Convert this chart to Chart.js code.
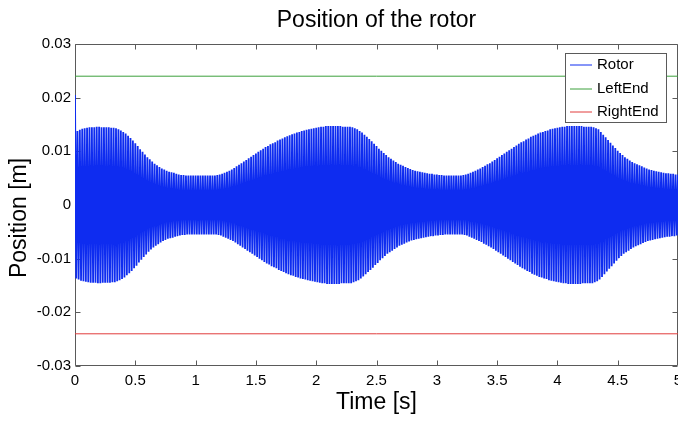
<!DOCTYPE html>
<html><head><meta charset="utf-8">
<script src="https://cdn.jsdelivr.net/npm/chart.js@4.4.1/dist/chart.umd.min.js"></script>
<style>html,body{margin:0;padding:0;background:#fff;}#wrap{width:678px;height:421px;}</style>
</head><body><div id="wrap"><canvas id="c" width="678" height="421"></canvas></div>
<script>
const chartTitle = 'Position of the rotor';
const xTitle = 'Time [s]';
const yTitle = 'Position [m]';
const seriesNames = ['Rotor', 'LeftEnd', 'RightEnd'];
const seriesColors = ['rgb(14,44,240)', 'rgb(60,160,60)', 'rgb(225,60,60)'];
const timeStep = 0.01; // sampling interval of the rotor samples below (s)
const rotorPosition = [
  0.0205,-0.0137,0.0138,-0.0139,0.0140,-0.0141,0.0142,-0.0142,0.0143,-0.0143,
  0.0144,-0.0144,0.0145,-0.0145,0.0145,-0.0145,0.0145,-0.0145,0.0146,-0.0146,
  0.0146,-0.0146,0.0145,-0.0145,0.0145,-0.0145,0.0145,-0.0145,0.0145,-0.0145,
  0.0144,-0.0144,0.0144,-0.0144,0.0143,-0.0142,0.0141,-0.0140,0.0139,-0.0138,
  0.0136,-0.0135,0.0133,-0.0131,0.0129,-0.0127,0.0125,-0.0123,0.0120,-0.0118,
  0.0115,-0.0113,0.0110,-0.0107,0.0104,-0.0102,0.0099,-0.0097,0.0094,-0.0092,
  0.0089,-0.0087,0.0085,-0.0083,0.0081,-0.0079,0.0077,-0.0076,0.0074,-0.0073,
  0.0071,-0.0070,0.0068,-0.0067,0.0066,-0.0065,0.0064,-0.0063,0.0062,-0.0062,
  0.0061,-0.0061,0.0060,-0.0059,0.0058,-0.0058,0.0057,-0.0057,0.0056,-0.0056,
  0.0056,-0.0056,0.0055,-0.0055,0.0055,-0.0055,0.0055,-0.0055,0.0055,-0.0055,
  0.0055,-0.0055,0.0055,-0.0055,0.0055,-0.0055,0.0055,-0.0055,0.0055,-0.0055,
  0.0055,-0.0055,0.0055,-0.0055,0.0055,-0.0055,0.0055,-0.0055,0.0056,-0.0056,
  0.0057,-0.0057,0.0058,-0.0059,0.0060,-0.0061,0.0062,-0.0063,0.0064,-0.0065,
  0.0066,-0.0067,0.0069,-0.0070,0.0072,-0.0073,0.0075,-0.0076,0.0078,-0.0079,
  0.0081,-0.0082,0.0084,-0.0085,0.0087,-0.0088,0.0090,-0.0091,0.0093,-0.0094,
  0.0096,-0.0097,0.0099,-0.0100,0.0102,-0.0103,0.0105,-0.0106,0.0108,-0.0109,
  0.0110,-0.0111,0.0113,-0.0114,0.0115,-0.0116,0.0117,-0.0118,0.0120,-0.0121,
  0.0122,-0.0123,0.0124,-0.0125,0.0126,-0.0127,0.0128,-0.0129,0.0130,-0.0131,
  0.0132,-0.0132,0.0133,-0.0134,0.0135,-0.0135,0.0136,-0.0137,0.0138,-0.0138,
  0.0139,-0.0139,0.0140,-0.0140,0.0141,-0.0141,0.0142,-0.0142,0.0143,-0.0143,
  0.0144,-0.0144,0.0145,-0.0145,0.0146,-0.0146,0.0146,-0.0146,0.0147,-0.0147,
  0.0147,-0.0147,0.0147,-0.0147,0.0147,-0.0147,0.0147,-0.0147,0.0147,-0.0147,
  0.0147,-0.0146,0.0146,-0.0146,0.0146,-0.0146,0.0146,-0.0146,0.0146,-0.0146,
  0.0145,-0.0144,0.0143,-0.0142,0.0141,-0.0140,0.0138,-0.0137,0.0135,-0.0133,
  0.0131,-0.0129,0.0127,-0.0125,0.0123,-0.0121,0.0119,-0.0117,0.0114,-0.0112,
  0.0110,-0.0108,0.0105,-0.0103,0.0101,-0.0099,0.0097,-0.0095,0.0093,-0.0091,
  0.0089,-0.0088,0.0086,-0.0085,0.0083,-0.0082,0.0080,-0.0079,0.0077,-0.0076,
  0.0075,-0.0074,0.0073,-0.0072,0.0071,-0.0070,0.0069,-0.0068,0.0067,-0.0066,
  0.0065,-0.0065,0.0064,-0.0064,0.0063,-0.0063,0.0062,-0.0062,0.0061,-0.0061,
  0.0060,-0.0060,0.0059,-0.0059,0.0058,-0.0058,0.0058,-0.0058,0.0057,-0.0057,
  0.0057,-0.0057,0.0056,-0.0056,0.0056,-0.0056,0.0055,-0.0055,0.0055,-0.0055,
  0.0055,-0.0055,0.0055,-0.0055,0.0055,-0.0055,0.0055,-0.0055,0.0055,-0.0055,
  0.0055,-0.0055,0.0056,-0.0056,0.0057,-0.0057,0.0058,-0.0059,0.0060,-0.0061,
  0.0062,-0.0063,0.0064,-0.0065,0.0066,-0.0067,0.0068,-0.0069,0.0071,-0.0072,
  0.0073,-0.0074,0.0076,-0.0077,0.0078,-0.0079,0.0081,-0.0082,0.0084,-0.0085,
  0.0087,-0.0088,0.0090,-0.0091,0.0093,-0.0094,0.0096,-0.0097,0.0099,-0.0100,
  0.0102,-0.0103,0.0105,-0.0106,0.0108,-0.0109,0.0111,-0.0112,0.0114,-0.0115,
  0.0117,-0.0118,0.0119,-0.0120,0.0122,-0.0123,0.0124,-0.0125,0.0127,-0.0128,
  0.0129,-0.0130,0.0131,-0.0132,0.0133,-0.0134,0.0135,-0.0135,0.0136,-0.0137,
  0.0138,-0.0138,0.0139,-0.0140,0.0141,-0.0141,0.0142,-0.0142,0.0143,-0.0143,
  0.0144,-0.0144,0.0145,-0.0145,0.0146,-0.0146,0.0146,-0.0146,0.0147,-0.0147,
  0.0147,-0.0147,0.0147,-0.0147,0.0147,-0.0147,0.0147,-0.0147,0.0147,-0.0147,
  0.0147,-0.0146,0.0146,-0.0146,0.0146,-0.0146,0.0146,-0.0146,0.0146,-0.0146,
  0.0145,-0.0144,0.0143,-0.0142,0.0141,-0.0139,0.0136,-0.0134,0.0131,-0.0129,
  0.0126,-0.0124,0.0121,-0.0119,0.0116,-0.0114,0.0111,-0.0109,0.0106,-0.0104,
  0.0101,-0.0099,0.0097,-0.0095,0.0093,-0.0091,0.0089,-0.0088,0.0086,-0.0085,
  0.0083,-0.0082,0.0080,-0.0079,0.0078,-0.0077,0.0076,-0.0075,0.0074,-0.0073,
  0.0072,-0.0071,0.0070,-0.0069,0.0068,-0.0067,0.0066,-0.0066,0.0065,-0.0065,
  0.0064,-0.0064,0.0063,-0.0063,0.0062,-0.0062,0.0061,-0.0061,0.0060,-0.0060,
  0.0059,-0.0059,0.0059,-0.0059,0.0058,-0.0058,0.0058,-0.0058,0.0057,-0.0057,
  0.0057
];
const endTimes = [0, 5];
const leftEndPosition = [0.024, 0.024];
const rightEndPosition = [-0.024, -0.024];
const xTickValues = [0, 0.5, 1, 1.5, 2, 2.5, 3, 3.5, 4, 4.5, 5];
const xTickLabels = ['0', '0.5', '1', '1.5', '2', '2.5', '3', '3.5', '4', '4.5', '5'];
const yTickValues = [-0.03, -0.02, -0.01, 0, 0.01, 0.02, 0.03];
const yTickLabels = ['-0.03', '-0.02', '-0.01', '0', '0.01', '0.02', '0.03'];

const FONT = '"Liberation Sans", Arial, Helvetica, sans-serif';

const rotorPoints = rotorPosition.map((v, i) => ({x: i * timeStep, y: v}));
const leftPoints = endTimes.map((t, i) => ({x: t, y: leftEndPosition[i]}));
const rightPoints = endTimes.map((t, i) => ({x: t, y: rightEndPosition[i]}));

const framePlugin = {
  id: 'frame',
  beforeDatasetsDraw(chart) {
    const {ctx, chartArea: a, scales} = chart;
    ctx.save();
    ctx.strokeStyle = '#5a5a5a';
    ctx.lineWidth = 1;
    const L = Math.round(a.left) + 0.5, R = Math.round(a.right) - 0.5;
    const T = Math.round(a.top) + 0.5, B = Math.round(a.bottom) - 0.5;
    ctx.beginPath();
    ctx.rect(L, T, R - L, B - T);
    const tl = 5;
    xTickValues.forEach(v => {
      const x = Math.round(scales.x.getPixelForValue(v)) + 0.5;
      ctx.moveTo(x, B); ctx.lineTo(x, B - tl);
      ctx.moveTo(x, T); ctx.lineTo(x, T + tl);
    });
    yTickValues.forEach(v => {
      const y = Math.round(scales.y.getPixelForValue(v)) + 0.5;
      ctx.moveTo(L, y); ctx.lineTo(L + tl, y);
      ctx.moveTo(R, y); ctx.lineTo(R - tl, y);
    });
    ctx.stroke();
    ctx.restore();
  }
};

const legendPlugin = {
  id: 'boxLegend',
  afterDraw(chart) {
    const {ctx, chartArea: a} = chart;
    const w = 101, h = 69;
    const x0 = a.right - 12 - w, y0 = a.top + 9;
    ctx.save();
    ctx.fillStyle = '#fff';
    ctx.fillRect(x0, y0, w, h);
    ctx.strokeStyle = '#5a5a5a';
    ctx.lineWidth = 1;
    ctx.strokeRect(Math.round(x0) + 0.5, Math.round(y0) + 0.5, w, h);
    ctx.font = '15px ' + FONT;
    ctx.textBaseline = 'middle';
    ctx.textAlign = 'left';
    chart.data.datasets.forEach((ds, i) => {
      const y = y0 + 12 + i * 23.5;
      ctx.strokeStyle = seriesColors[i];
      ctx.lineWidth = 1;
      ctx.beginPath();
      ctx.moveTo(x0 + 5, Math.round(y));
      ctx.lineTo(x0 + 27, Math.round(y));
      ctx.stroke();
      ctx.fillStyle = '#000';
      ctx.fillText(ds.label, x0 + 32, y);
    });
    // y axis title
    ctx.save();
    ctx.translate(20, (a.top + a.bottom) / 2 + 13);
    ctx.rotate(-Math.PI / 2);
    ctx.font = '23px ' + FONT;
    ctx.textAlign = 'center';
    ctx.textBaseline = 'middle';
    ctx.fillStyle = '#000';
    ctx.fillText(yTitle, 0, 0);
    ctx.restore();
    ctx.restore();
  }
};

new Chart(document.getElementById('c'), {
  type: 'line',
  data: {
    datasets: [
      {label: seriesNames[0], data: rotorPoints, borderColor: seriesColors[0], borderWidth: 1.8, borderJoinStyle: 'bevel', borderCapStyle: 'butt', pointRadius: 0, tension: 0, fill: false},
      {label: seriesNames[1], data: leftPoints, borderColor: seriesColors[1], borderWidth: 1, pointRadius: 0, fill: false},
      {label: seriesNames[2], data: rightPoints, borderColor: seriesColors[2], borderWidth: 1, pointRadius: 0, fill: false}
    ]
  },
  plugins: [framePlugin, legendPlugin],
  options: {
    responsive: false,
    animation: false,
    devicePixelRatio: 1,
    layout: {padding: 0},
    plugins: {
      legend: {display: false},
      tooltip: {enabled: false},
      title: {
        display: true, text: chartTitle, fullSize: false, color: '#000',
        font: {family: FONT, size: 23, weight: 'normal'},
        padding: {top: 7, bottom: 9.4}
      }
    },
    scales: {
      x: {
        type: 'linear', min: 0, max: 5,
        grid: {display: false, drawTicks: false},
        border: {display: false},
        afterBuildTicks: s => { s.ticks = xTickValues.map(v => ({value: v})); },
        afterFit: s => { s.height = 55; s.paddingRight = 0; s.paddingLeft = 0; },
        ticks: {
          color: '#000', padding: 6, maxRotation: 0, autoSkip: false,
          font: {family: FONT, size: 15},
          callback: (v, i) => xTickLabels[i]
        },
        title: {display: true, text: xTitle, color: '#000', font: {family: FONT, size: 23}, padding: {top: 0, bottom: 5}}
      },
      y: {
        type: 'linear', min: -0.03, max: 0.03,
        grid: {display: false, drawTicks: false},
        border: {display: false},
        afterBuildTicks: s => { s.ticks = yTickValues.map(v => ({value: v})); },
        afterFit: s => { s.width = 75; s.paddingTop = 0; s.paddingBottom = 0; },
        ticks: {
          color: '#000', padding: 4, autoSkip: false,
          font: {family: FONT, size: 15},
          callback: (v, i) => yTickLabels[i]
        },
        title: {display: false}
      }
    }
  }
});
</script>
</body></html>
